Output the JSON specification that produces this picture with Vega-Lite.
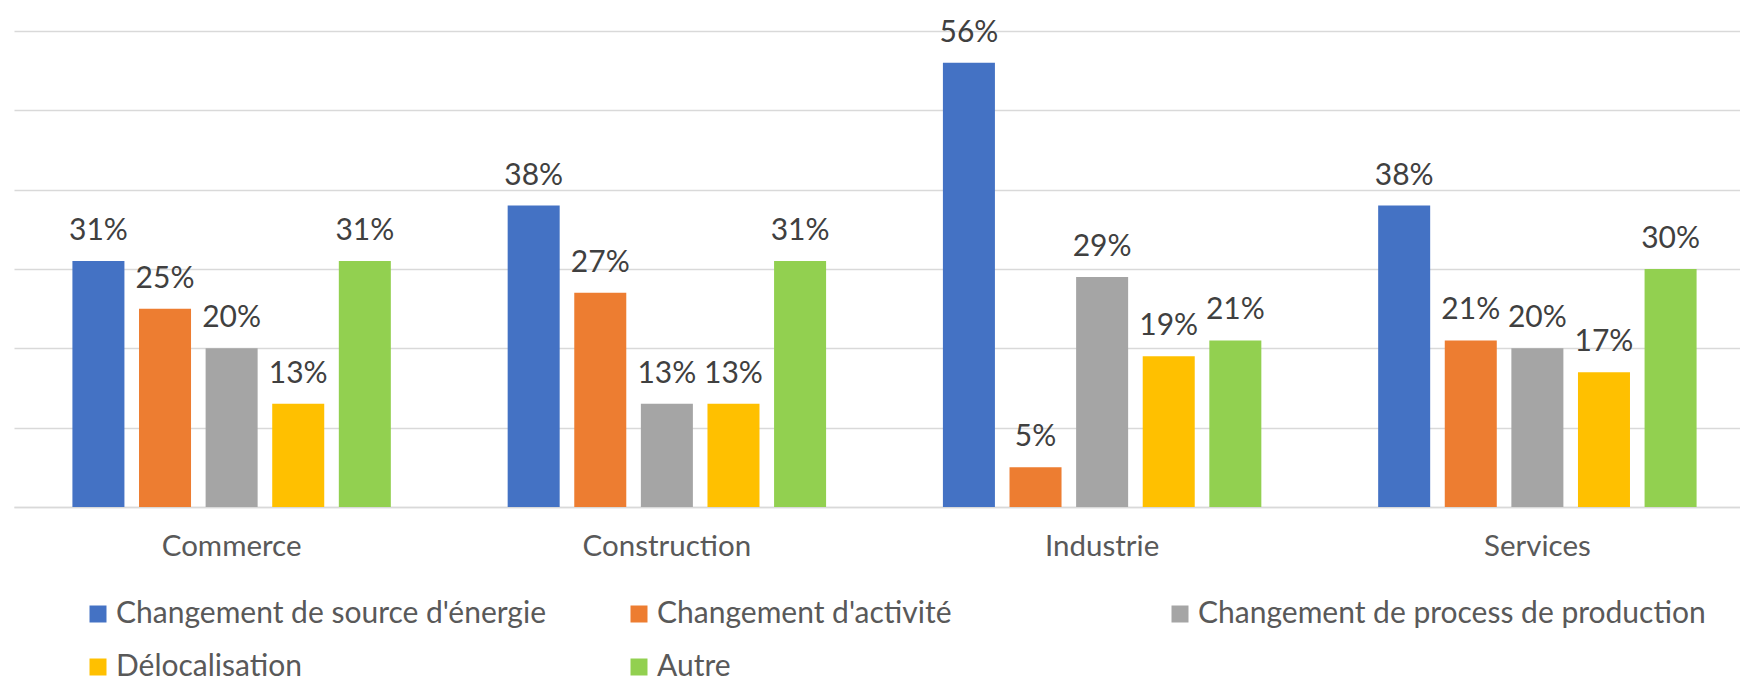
{
  "$schema": "https://vega.github.io/schema/vega-lite/v6.json",
  "width": 1726,
  "height": 476,
  "autosize": {"type": "none"},
  "padding": {"left": 14, "top": 31, "right": 0, "bottom": 172},
  "background": "white",
  "config": {"view": {"stroke": null}, "font": "Lato"},
  "data": {
    "values": [
      {"secteur": "Commerce", "type": "Changement de source d'énergie", "valeur": 0.31},
      {"secteur": "Commerce", "type": "Changement d'activité", "valeur": 0.25},
      {"secteur": "Commerce", "type": "Changement de process de production", "valeur": 0.20},
      {"secteur": "Commerce", "type": "Délocalisation", "valeur": 0.13},
      {"secteur": "Commerce", "type": "Autre", "valeur": 0.31},
      {"secteur": "Construction", "type": "Changement de source d'énergie", "valeur": 0.38},
      {"secteur": "Construction", "type": "Changement d'activité", "valeur": 0.27},
      {"secteur": "Construction", "type": "Changement de process de production", "valeur": 0.13},
      {"secteur": "Construction", "type": "Délocalisation", "valeur": 0.13},
      {"secteur": "Construction", "type": "Autre", "valeur": 0.31},
      {"secteur": "Industrie", "type": "Changement de source d'énergie", "valeur": 0.56},
      {"secteur": "Industrie", "type": "Changement d'activité", "valeur": 0.05},
      {"secteur": "Industrie", "type": "Changement de process de production", "valeur": 0.29},
      {"secteur": "Industrie", "type": "Délocalisation", "valeur": 0.19},
      {"secteur": "Industrie", "type": "Autre", "valeur": 0.21},
      {"secteur": "Services", "type": "Changement de source d'énergie", "valeur": 0.38},
      {"secteur": "Services", "type": "Changement d'activité", "valeur": 0.21},
      {"secteur": "Services", "type": "Changement de process de production", "valeur": 0.20},
      {"secteur": "Services", "type": "Délocalisation", "valeur": 0.17},
      {"secteur": "Services", "type": "Autre", "valeur": 0.30}
    ]
  },
  "encoding": {
    "x": {
      "field": "secteur", "type": "nominal",
      "sort": ["Commerce", "Construction", "Industrie", "Services"],
      "scale": {"range": [0, 1741], "paddingInner": 0, "paddingOuter": 0},
      "axis": {"title": null, "labelAngle": 0, "labelFontSize": 29.5, "labelColor": "#595959", "labelPadding": 25, "ticks": false, "domainColor": "#d9d9d9", "domainWidth": 1.5, "grid": false}
    },
    "xOffset": {
      "field": "type", "type": "nominal",
      "sort": ["Changement de source d'énergie", "Changement d'activité", "Changement de process de production", "Délocalisation", "Autre"],
      "scale": {"paddingInner": 0.219, "paddingOuter": 0.877}
    },
    "y": {
      "field": "valeur", "type": "quantitative",
      "scale": {"domain": [0, 0.6], "nice": false},
      "axis": {"title": null, "labels": false, "ticks": false, "domain": false, "gridColor": "#d9d9d9", "gridWidth": 1.5, "values": [0, 0.1, 0.2, 0.3, 0.4, 0.5, 0.6]}
    }
  },
  "layer": [
    {
      "mark": {"type": "bar"},
      "encoding": {
        "color": {
          "field": "type", "type": "nominal",
          "sort": ["Changement de source d'énergie", "Changement d'activité", "Changement de process de production", "Délocalisation", "Autre"],
          "scale": {
            "domain": ["Changement de source d'énergie", "Changement d'activité", "Changement de process de production", "Délocalisation", "Autre"],
            "range": ["#4472C4", "#ED7D31", "#A5A5A5", "#FFC000", "#92D050"]
          },
          "legend": {
            "title": null, "orient": "none", "legendX": 69, "legendY": 568, "direction": "horizontal",
            "columns": 3, "gridAlign": "all", "columnPadding": 0, "rowPadding": 23,
            "symbolType": "square", "symbolSize": 289, "symbolStrokeWidth": 0,
            "labelFontSize": 30, "labelColor": "#595959", "labelOffset": 3, "labelLimit": 700
          }
        }
      }
    },
    {
      "mark": {"type": "text", "dy": -21, "baseline": "alphabetic", "fontSize": 30, "color": "#404040"},
      "encoding": {"text": {"field": "valeur", "type": "quantitative", "format": ".0%"}}
    }
  ]
}
